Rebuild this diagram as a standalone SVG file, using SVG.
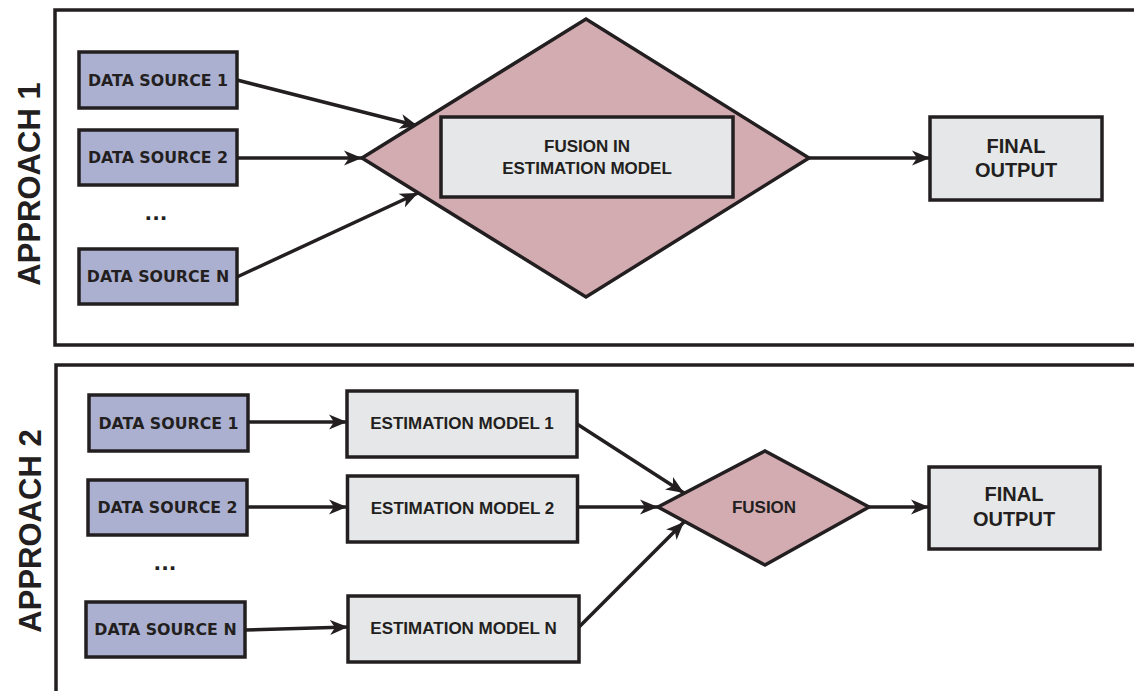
<svg xmlns="http://www.w3.org/2000/svg" width="1134" height="691" viewBox="0 0 1134 691">
<style>
.frame{fill:none;stroke:#231f20;stroke-width:3.5}
.ds{fill:#abb0d1;stroke:#231f20;stroke-width:3.5}
.box{fill:#e6e7e8;stroke:#231f20;stroke-width:3.5}
.dia{fill:#d3acb2;stroke:#231f20;stroke-width:3.5;stroke-linejoin:miter}
.edge{fill:none;stroke:#231f20;stroke-width:3.5;marker-end:url(#ah)}
.tds{font-family:"DejaVu Sans",Verdana,sans-serif;font-weight:bold;font-size:15.8px;fill:#231f20;text-anchor:middle}
.dots{font-family:"DejaVu Sans",Verdana,sans-serif;font-weight:bold;font-size:20px;fill:#231f20;text-anchor:middle}
.tm{font-family:"Liberation Sans",Arial,sans-serif;font-weight:bold;font-size:17px;fill:#231f20;text-anchor:middle}
.tf{font-family:"Liberation Sans",Arial,sans-serif;font-weight:bold;font-size:20px;fill:#231f20;text-anchor:middle}
.ta{font-family:"Liberation Sans",Arial,sans-serif;font-weight:bold;font-size:31px;fill:#231f20;text-anchor:middle}
</style>
<defs>
<marker id="ah" markerUnits="userSpaceOnUse" markerWidth="20" markerHeight="16" refX="18" refY="8" orient="auto">
<path d="M0,0.5 L18,8 L0,15.5 L5,8 z" fill="#231f20"/>
</marker>
</defs>
<rect width="1134" height="691" fill="#ffffff"/>

<g id="panel1">
<path class="frame" d="M1136,10 H55 V345 H1136"/>
<text class="ta" transform="translate(40,184) rotate(-90)">APPROACH 1</text>
</g>
<g id="panel2">
<path class="frame" d="M1136,365 H56 V695"/>
<text class="ta" transform="translate(41,531) rotate(-90)">APPROACH 2</text>
</g>

<g id="connectors">
<line class="edge" x1="237" y1="80" x2="418" y2="126"/>
<line class="edge" x1="237" y1="158" x2="362" y2="158"/>
<line class="edge" x1="237" y1="277" x2="418" y2="193"/>
<line class="edge" x1="809" y1="158" x2="930" y2="158"/>
<line class="edge" x1="248" y1="422" x2="347" y2="422"/>
<line class="edge" x1="247" y1="507" x2="347" y2="507"/>
<line class="edge" x1="245" y1="630" x2="348" y2="627"/>
<line class="edge" x1="577" y1="424" x2="684" y2="493"/>
<line class="edge" x1="578" y1="507" x2="658" y2="507"/>
<line class="edge" x1="579" y1="627" x2="684" y2="522"/>
<line class="edge" x1="869" y1="507" x2="929" y2="507"/>
</g>

<g id="a1-ds1"><rect class="ds" x="79" y="52" width="158" height="56"/><text class="tds" x="158" y="86">DATA SOURCE 1</text></g>
<g id="a1-ds2"><rect class="ds" x="79" y="130" width="158" height="55"/><text class="tds" x="158" y="163">DATA SOURCE 2</text></g>
<g id="a1-dots"><text class="dots" x="156" y="220">...</text></g>
<g id="a1-dsn"><rect class="ds" x="79" y="249" width="158" height="55"/><text class="tds" x="158" y="282">DATA SOURCE N</text></g>
<g id="a1-fusion">
<polygon class="dia" points="362,158 586,19 809,158 586,297"/>
<rect class="box" x="441" y="117" width="292" height="80"/>
<text class="tm" x="587" y="151.5">FUSION IN</text>
<text class="tm" x="587" y="173.5">ESTIMATION MODEL</text>
</g>
<g id="a1-final"><rect class="box" x="930" y="117" width="172" height="83"/><text class="tf" x="1016" y="152.5">FINAL</text><text class="tf" x="1016" y="176.5">OUTPUT</text></g>

<g id="a2-ds1"><rect class="ds" x="89" y="395" width="159" height="56"/><text class="tds" x="168.5" y="429">DATA SOURCE 1</text></g>
<g id="a2-ds2"><rect class="ds" x="88" y="480" width="159" height="55"/><text class="tds" x="167.5" y="513">DATA SOURCE 2</text></g>
<g id="a2-dots"><text class="dots" x="165" y="570">...</text></g>
<g id="a2-dsn"><rect class="ds" x="86" y="602" width="159" height="55"/><text class="tds" x="165.5" y="635">DATA SOURCE N</text></g>
<g id="a2-em1"><rect class="box" x="347" y="391" width="230" height="66"/><text class="tm" x="462" y="429">ESTIMATION MODEL 1</text></g>
<g id="a2-em2"><rect class="box" x="347.5" y="476" width="230" height="66"/><text class="tm" x="462.5" y="514">ESTIMATION MODEL 2</text></g>
<g id="a2-emn"><rect class="box" x="348" y="596" width="231" height="66"/><text class="tm" x="463.5" y="634">ESTIMATION MODEL N</text></g>
<g id="a2-fusion"><polygon class="dia" points="658,507 765,451 869,507 765,565"/><text class="tm" x="764" y="513">FUSION</text></g>
<g id="a2-final"><rect class="box" x="929" y="467" width="171" height="82"/><text class="tf" x="1014" y="501">FINAL</text><text class="tf" x="1014" y="526">OUTPUT</text></g>
</svg>
